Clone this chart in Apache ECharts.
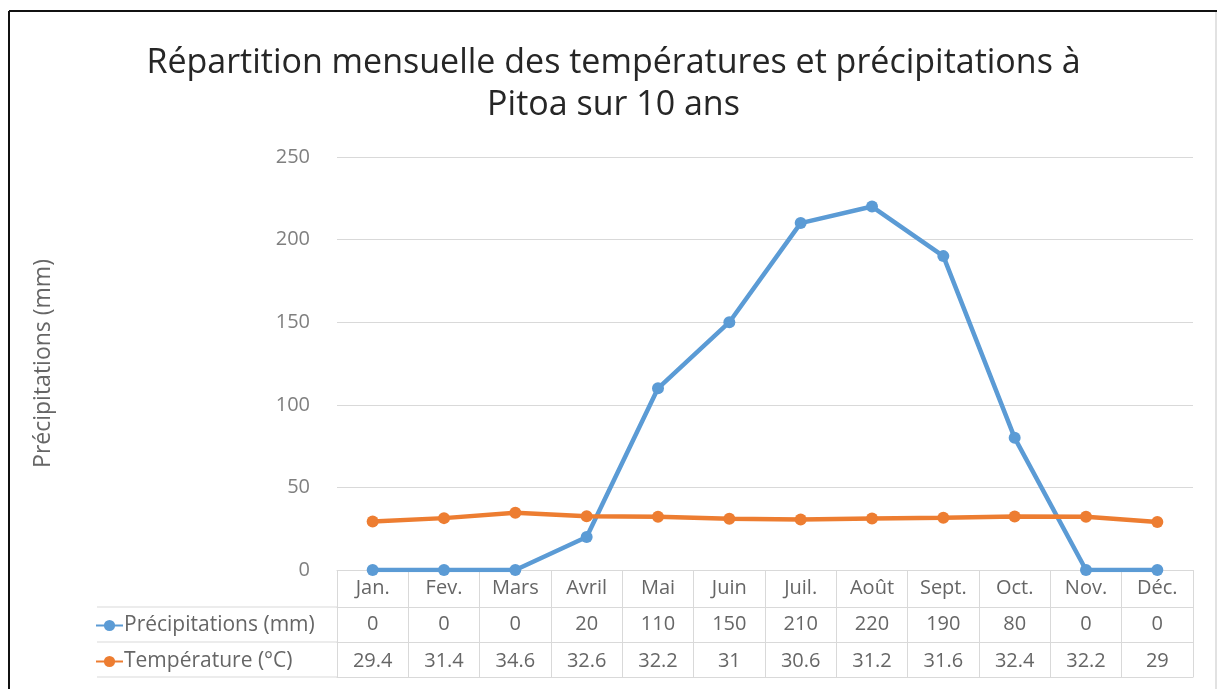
<!DOCTYPE html>
<html>
<head>
<meta charset="utf-8">
<script src="https://cdn.jsdelivr.net/npm/echarts@6/dist/echarts.min.js"></script>
<style>
  html, body { margin: 0; padding: 0; background: #fff; }
  #chart { width: 1227px; height: 689px; }
</style>
</head>
<body>
<div id="chart"></div>
<script>
const months = ['Jan.', 'Fev.', 'Mars', 'Avril', 'Mai', 'Juin', 'Juil.', 'Août', 'Sept.', 'Oct.', 'Nov.', 'Déc.'];
const precipitations = [0, 0, 0, 20, 110, 150, 210, 220, 190, 80, 0, 0];
const temperatures = [29.4, 31.4, 34.6, 32.6, 32.2, 31, 30.6, 31.2, 31.6, 32.4, 32.2, 29];
const yTicks = [0, 50, 100, 150, 200, 250];

const font = '"Open Sans", Lato, sans-serif';
const gridColor = '#d9d9d9';
const textColor = '#666666';
const rowH = 35;

const chart = echarts.init(document.getElementById('chart'));

// axes stacked below the plot act as the data table rows
const tableAxis = (values, offset, margin, showLabel) => ({
    type: 'category',
    data: months,
    position: 'bottom',
    offset: offset,
    axisLine: { show: true, lineStyle: { color: gridColor, width: 1 } },
    axisTick: { show: false },
    axisLabel: {
        show: showLabel,
        interval: 0,
        margin: margin,
        fontFamily: font,
        fontSize: 20,
        color: textColor,
        formatter: (v, i) => values ? String(values[i]) : v
    }
});

let option = {
    backgroundColor: '#fff',
    textStyle: { fontFamily: font },
    title: {
        text: 'Répartition mensuelle des températures et précipitations à\nPitoa sur 10 ans',
        left: 'center',
        top: 37,
        textStyle: {
            fontFamily: font,
            fontSize: 34,
            fontWeight: 'normal',
            color: '#262626',
            lineHeight: 42
        }
    },
    legend: {
        orient: 'vertical',
        left: 95,
        top: 615,
        padding: 0,
        itemWidth: 27,
        itemHeight: 14,
        itemGap: 15,
        textStyle: { fontFamily: font, fontSize: 21, color: textColor, padding: [0, 0, 0, -4] },
        data: ['Précipitations (mm)', 'Température (°C)']
    },
    grid: { left: 337, right: 34, top: 157, bottom: 119 },
    xAxis: [
        {
            type: 'category',
            data: months,
            position: 'bottom',
            boundaryGap: true,
            axisLine: { show: true, lineStyle: { color: gridColor } },
            axisTick: { show: true, length: 107, lineStyle: { color: gridColor } },
            axisLabel: {
                interval: 0,
                margin: 8,
                fontFamily: font,
                fontSize: 20,
                color: textColor
            }
        },
        tableAxis(precipitations, 37, 7, true),
        tableAxis(temperatures, 37 + rowH, 9, true),
        tableAxis(null, 37 + 2 * rowH, 7, false)
    ],
    yAxis: {
        type: 'value',
        min: yTicks[0],
        max: yTicks[yTicks.length - 1],
        interval: 50,
        name: 'Précipitations (mm)',
        nameLocation: 'middle',
        nameRotate: 90,
        nameGap: 282,
        nameTextStyle: { fontFamily: font, fontSize: 23, color: textColor },
        axisLine: { show: false },
        axisTick: { show: false },
        axisLabel: { margin: 27, fontFamily: font, fontSize: 20, color: '#7f7f7f' },
        splitLine: { lineStyle: { color: gridColor, width: 1 } }
    },
    series: [
        {
            name: 'Précipitations (mm)',
            type: 'line',
            data: precipitations,
            color: '#5b9bd5',
            lineStyle: { width: 4.5 },
            symbol: 'circle',
            symbolSize: 12,
            z: 3
        },
        {
            name: 'Température (°C)',
            type: 'line',
            data: temperatures,
            color: '#ed7d31',
            lineStyle: { width: 4.5 },
            symbol: 'circle',
            symbolSize: 12,
            z: 4
        }
    ],
    graphic: [
        // outer frame of the picture
        { type: 'line', shape: { x1: 9, y1: 11, x2: 1217, y2: 11 }, style: { stroke: '#111', lineWidth: 2 } },
        { type: 'line', shape: { x1: 9, y1: 11, x2: 9, y2: 689 }, style: { stroke: '#111', lineWidth: 2 } },
        { type: 'line', shape: { x1: 1216, y1: 12, x2: 1216, y2: 689 }, style: { stroke: '#e2e2e2', lineWidth: 2 } },
        // left part of the table rows
        { type: 'line', shape: { x1: 97, y1: 607, x2: 337, y2: 607 }, style: { stroke: gridColor, lineWidth: 1 } },
        { type: 'line', shape: { x1: 97, y1: 642, x2: 337, y2: 642 }, style: { stroke: gridColor, lineWidth: 1 } },
        { type: 'line', shape: { x1: 97, y1: 677, x2: 337, y2: 677 }, style: { stroke: gridColor, lineWidth: 1 } }
    ]
};
chart.setOption(option);
</script>
</body>
</html>
